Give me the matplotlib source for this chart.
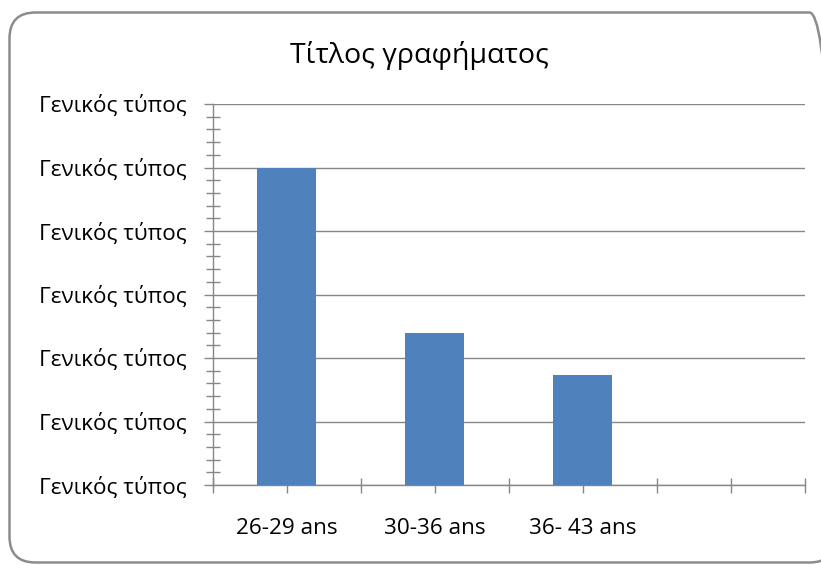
import matplotlib
matplotlib.use("Agg")
import matplotlib.pyplot as plt
from matplotlib.patches import FancyBboxPatch
from matplotlib.ticker import MultipleLocator, FixedLocator

categories = ["26-29 ans", "30-36 ans", "36- 43 ans", ""]
values = [5.0, 2.39, 1.74, None]
ytick_values = [0, 1, 2, 3, 4, 5, 6]
ytick_labels = ["Γενικός τύπος"] * 7
title = "Τίτλος γραφήματος"

FONT = ["Open Sans", "DejaVu Sans"]
plt.rcParams["font.family"] = FONT

W, H = 821, 565
fig = plt.figure(figsize=(W / 100, H / 100), dpi=100)

# rounded chart frame in display (pixel) coordinates, origin bottom-left
frame = FancyBboxPatch((9.5, H - 562.5), 826, 550, boxstyle="round,pad=0,rounding_size=26",
                       fill=False, edgecolor="#8c8c8c", linewidth=1.8,
                       transform=None, clip_on=False)
fig.add_artist(frame)
fig.text(419 / W, 1 - 55 / H, title, ha="center", va="center", fontsize=20.5, color="#000000")

left, right, top, bottom = 212.7, 804.5, 104, 485
ax = fig.add_axes([left / W, (H - bottom) / H, (right - left) / W, (bottom - top) / H])
ax.set_facecolor("none")

xs = [i + 0.5 for i in range(len(categories))]
for x, v in zip(xs, values):
    if v is not None:
        ax.bar(x, v, width=0.4, color="#4F81BD", zorder=3)

ax.set_xlim(0, len(categories))
ax.set_ylim(ytick_values[0], ytick_values[-1])

ax.set_yticks(ytick_values)
ax.set_yticklabels(ytick_labels, fontsize=16.2)
ax.yaxis.set_minor_locator(MultipleLocator(0.2))
ax.grid(axis="y", which="major", color="#868686", linewidth=1.0, zorder=1)

ax.set_xticks(xs)
ax.set_xticklabels(categories, fontsize=16.2)
ax.xaxis.set_minor_locator(FixedLocator(list(range(len(categories) + 1))))

for s in ["top", "right"]:
    ax.spines[s].set_visible(False)
for s in ["left", "bottom"]:
    ax.spines[s].set_color("#868686")
    ax.spines[s].set_linewidth(1.0)

ax.tick_params(axis="y", which="major", direction="out", length=6.5, width=1.0,
               color="#868686", pad=12.5)
ax.tick_params(axis="y", which="minor", direction="inout", length=9.5, width=1.0,
               color="#868686")
ax.tick_params(axis="x", which="both", direction="inout", length=10.8, width=1.0,
               color="#868686")
ax.tick_params(axis="x", which="major", pad=18)

fig.savefig("out.png", dpi=100)
